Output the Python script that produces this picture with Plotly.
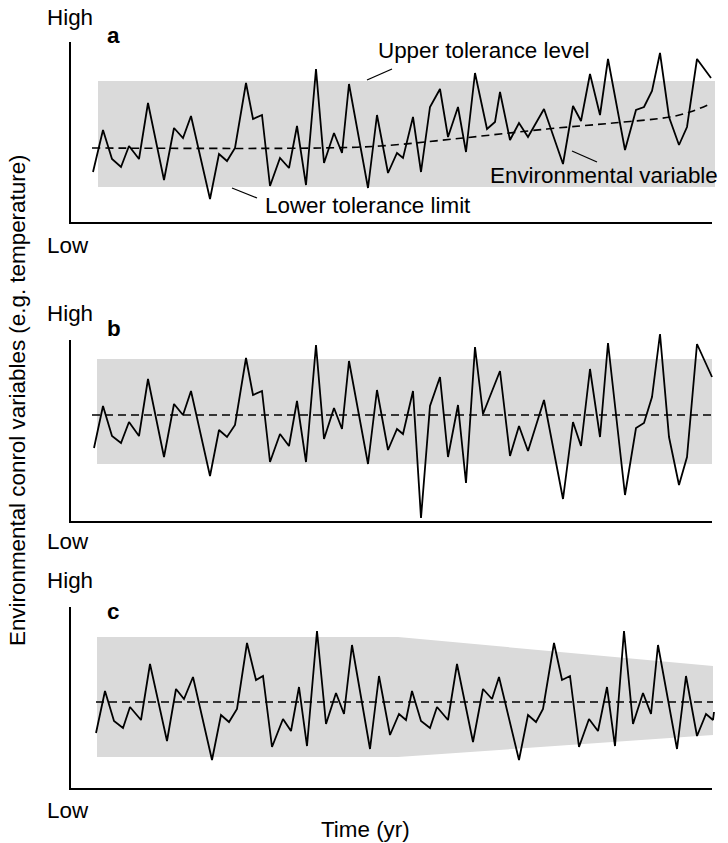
import plotly.graph_objects as go

# ---------------- data (arbitrary units) ----------------
# Panel a: trend in the environmental variable
time_a = [23, 33, 42, 51, 59, 69, 78, 94, 104, 113, 121, 140, 149, 157, 165, 176, 183, 192, 200, 210,
          219, 227, 236, 246, 254, 264, 272, 279, 298, 307, 318, 327, 333, 343, 351, 360, 370, 378, 388, 396,
          405, 417, 425, 430, 440, 449, 458, 474, 493, 503, 511, 520, 530, 538, 555, 566, 574, 582, 590, 599,
          609, 617, 627, 641]
value_a = [51, 93, 64, 56, 77, 64, 120, 43, 95, 85, 107, 24, 69, 62, 75, 140, 104, 108, 37, 65,
           55, 97, 38, 154, 60, 90, 70, 139, 35, 108, 50, 70, 65, 106, 51, 116, 134, 86, 116, 71,
           150, 94, 101, 131, 83, 100, 86, 114, 59, 117, 102, 149, 108, 164, 73, 113, 116, 132, 170, 106,
           78, 96, 164, 145]
mean_time_a = [22, 250, 310, 393, 477, 543, 600, 620, 640]
mean_value_a = [75, 75, 77, 85, 94, 100, 106, 111, 119]
band_time_a = [28, 645]
band_low_a = [36, 36]
band_high_a = [142, 142]

# Panel b: increasing variance
time_b = [24, 33, 42, 51, 59, 69, 78, 94, 104, 113, 121, 140, 149, 157, 165, 176, 183, 192, 200, 210,
          219, 227, 236, 246, 254, 264, 272, 279, 298, 307, 318, 327, 333, 343, 351, 360, 370, 378, 388, 396,
          405, 413, 430, 440, 449, 458, 474, 493, 503, 511, 520, 530, 538, 555, 566, 574, 582, 590, 599, 609,
          617, 627, 642]
value_b = [74, 116, 86, 79, 100, 86, 143, 65, 118, 107, 131, 46, 92, 85, 97, 164, 127, 131, 60, 88,
           76, 121, 60, 177, 83, 114, 93, 161, 58, 132, 72, 93, 88, 131, 4, 116, 145, 65, 117, 39,
           175, 108, 151, 66, 96, 71, 122, 23, 100, 76, 153, 85, 179, 27, 94, 99, 125, 188, 85, 37,
           65, 178, 145]
mean_time_b = [22, 641]
mean_value_b = [107, 107]
band_time_b = [27, 642]
band_low_b = [58, 58]
band_high_b = [163, 163]

# Panel c: narrowing tolerance
time_c = [26, 35, 44, 53, 60, 71, 80, 97, 106, 114, 123, 142, 151, 159, 167, 177, 186, 193, 202, 213,
          221, 229, 237, 247, 256, 266, 274, 282, 300, 309, 320, 329, 336, 342, 351, 360, 367, 378, 387, 403,
          413, 422, 429, 449, 458, 466, 473, 484, 492, 500, 509, 519, 528, 537, 545, 554, 563, 573, 581, 588,
          607, 616, 627, 636, 643, 644]
value_c = [56, 98, 68, 61, 82, 69, 125, 48, 100, 90, 112, 29, 74, 67, 80, 146, 109, 113, 42, 70,
           58, 102, 43, 158, 65, 96, 75, 144, 40, 113, 54, 75, 69, 98, 68, 61, 82, 69, 125, 47,
           100, 90, 112, 29, 74, 67, 80, 146, 109, 113, 42, 70, 58, 102, 43, 158, 65, 96, 75, 144,
           40, 113, 53, 75, 69, 77]
mean_time_c = [26, 643]
mean_value_c = [87, 87]
band_time_c = [27, 328, 643]
band_low_c = [32, 32, 54]
band_high_c = [152, 152, 123]

axis_top = [181, 182, 182]
axis_end = 642

FONT = "Liberation Sans, Arial, Helvetica, sans-serif"
FS = 22.4
GRAY = "#dadada"

fig = go.Figure()

panels = [
    ("x", "y", band_time_a, band_low_a, band_high_a, time_a, value_a, mean_time_a, mean_value_a),
    ("x2", "y2", band_time_b, band_low_b, band_high_b, time_b, value_b, mean_time_b, mean_value_b),
    ("x3", "y3", band_time_c, band_low_c, band_high_c, time_c, value_c, mean_time_c, mean_value_c),
]

for i, (xa, ya, bt, bl, bh, t, v, mt, mv) in enumerate(panels):
    # tolerance band
    fig.add_trace(go.Scatter(
        x=bt + bt[::-1], y=bh + bl[::-1], fill="toself", fillcolor=GRAY,
        line=dict(width=0), mode="lines", hoverinfo="skip", showlegend=False,
        xaxis=xa, yaxis=ya))
    # mean / trend (dashed)
    fig.add_trace(go.Scatter(
        x=mt, y=mv, mode="lines", line=dict(color="black", width=1.6, dash="8px,5px",
                                            shape="spline" if len(mt) > 2 else "linear"),
        showlegend=False, xaxis=xa, yaxis=ya))
    # environmental variable
    fig.add_trace(go.Scatter(
        x=t, y=v, mode="lines", line=dict(color="black", width=1.8),
        showlegend=False, xaxis=xa, yaxis=ya))
    # axes (L-shaped frame)
    fig.add_trace(go.Scatter(
        x=[0, 0, axis_end], y=[axis_top[i], 0, 0], mode="lines",
        line=dict(color="black", width=2), showlegend=False, hoverinfo="skip",
        xaxis=xa, yaxis=ya))

# layout: one pixel per data unit horizontally
xr = [-70, 658]
domains = [[0.65599, 1.0], [0.33570, 0.65599], [0.0, 0.33570]]
yranges = [[-67, 223], [-38, 232], [-54, 229]]

layout = dict(
    width=728, height=843, autosize=False,
    margin=dict(l=0, r=0, t=0, b=0, pad=0),
    plot_bgcolor="white", paper_bgcolor="white",
    font=dict(family=FONT, size=FS, color="black"),
    showlegend=False,
)
for i in range(3):
    sx = "" if i == 0 else str(i + 1)
    layout["xaxis" + sx] = dict(range=xr, domain=[0, 1], visible=False, fixedrange=True,
                                anchor="y" + sx)
    layout["yaxis" + sx] = dict(range=yranges[i], domain=domains[i], visible=False,
                                fixedrange=True, anchor="x" + sx)
fig.update_layout(**layout)

ann = []
def A(text, x, y, xref, yref, **kw):
    d = dict(text=text, x=x, y=y, xref=xref, yref=yref, showarrow=False,
             xanchor="center", yanchor="middle",
             font=dict(family=FONT, size=FS, color="black"))
    d.update(kw)
    ann.append(d)

# High / Low and panel letters
A("High", 0, 206, "x", "y")
A("<b>a</b>", 43, 188, "x", "y")
A("Low", -2, -22, "x", "y")
A("High", 0, 209, "x2", "y2")
A("<b>b</b>", 44, 194, "x2", "y2")
A("Low", -2, -19, "x2", "y2")
A("High", 0, 209, "x3", "y3")
A("<b>c</b>", 43, 178, "x3", "y3")
A("Low", -2, -21, "x3", "y3")
A("Time (yr)", 295, -40, "x3", "y3")

# labels in panel a
A("Upper tolerance level", 414, 173, "x", "y")
A("Lower tolerance limit", 298, 18, "x", "y")
A("Environmental variable", 534, 48, "x", "y")

A("Environmental conrol variables (e.g. temperature)", 0.0234, 0.5255, "paper", "paper",
  textangle=-90)
fig.update_layout(annotations=ann)

# leader lines in panel a
leaders = [([297, 322], [143, 154]), ([162, 187], [35, 25]), ([502, 527], [72, 61])]
for lx, ly in leaders:
    fig.add_trace(go.Scatter(x=lx, y=ly, mode="lines", line=dict(color="black", width=1.3),
                             showlegend=False, hoverinfo="skip", xaxis="x", yaxis="y"))

fig.write_html(
    "out.html",
    config={"displayModeBar": False, "staticPlot": True},
    post_script="document.documentElement.style.margin='0';document.documentElement.style.overflow='hidden';"
                "document.body.style.margin='0';document.body.style.padding='0';document.body.style.overflow='hidden';",
)
